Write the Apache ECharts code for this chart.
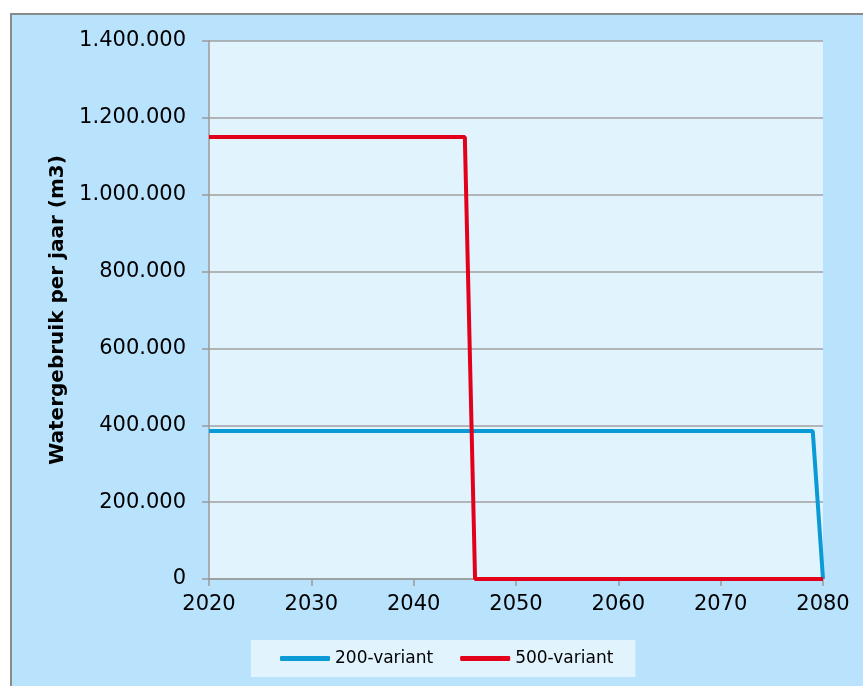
<!DOCTYPE html>
<html>
<head>
<meta charset="utf-8">
<script src="https://cdn.jsdelivr.net/npm/echarts@6/dist/echarts.min.js"></script>
<style>
html,body{margin:0;padding:0;background:#fff;}
#c{width:863px;height:686px;}
</style>
</head>
<body>
<div id="c"></div>
<script>
const seriesNames = ['200-variant', '500-variant'];
const variant200 = [[2020, 385000], [2079, 385000], [2080, 0]];
const variant500 = [[2020, 1150000], [2045, 1150000], [2046, 0], [2080, 0]];
const yTitle = 'Watergebruik per jaar (m3)';
const colors = ['#0a9ad6', '#e2001a'];

function nlFormat(v) {
  return String(Math.round(v)).replace(/\B(?=(\d{3})+(?!\d))/g, '.');
}

const chart = echarts.init(document.getElementById('c'));
chart.setOption({
  backgroundColor: '#ffffff',
  animation: false,
  textStyle: { fontFamily: 'DejaVu Sans' },
  graphic: [{
    type: 'rect', z: -10, silent: true,
    shape: { x: 11, y: 14, width: 870, height: 690 },
    style: { fill: '#b9e3fd', stroke: '#8a8a8a', lineWidth: 2 }
  }],
  grid: {
    left: 209, top: 41, right: 40, bottom: 107,
    show: true, backgroundColor: '#e1f3fd', borderWidth: 0
  },
  legend: {
    data: seriesNames,
    left: 251, top: 640,
    backgroundColor: '#e1f3fd',
    padding: [10, 22, 10, 29],
    itemGap: 27,
    itemWidth: 50, itemHeight: 5,
    icon: 'roundRect',
    textStyle: { fontSize: 17, color: '#000', fontFamily: 'DejaVu Sans' }
  },
  xAxis: {
    type: 'value', min: 2020, max: 2080, interval: 10,
    axisLine: { show: true, lineStyle: { color: '#9a9a9a', width: 1.5 } },
    axisTick: { show: true, length: 7, lineStyle: { color: '#9a9a9a', width: 1.5 } },
    axisLabel: { fontSize: 21, color: '#000', margin: 15, formatter: v => String(v) },
    splitLine: { show: false }
  },
  yAxis: {
    type: 'value', min: 0, max: 1400000, interval: 200000,
    name: yTitle, nameLocation: 'middle', nameGap: 140,
    nameTextStyle: { fontSize: 20, fontWeight: 'bold', color: '#000' },
    axisLine: { show: true, lineStyle: { color: '#9a9a9a', width: 1.5 } },
    axisTick: { show: true, length: 7, lineStyle: { color: '#9a9a9a', width: 1.5 } },
    axisLabel: { fontSize: 21, color: '#000', margin: 23, formatter: nlFormat },
    splitLine: { show: true, lineStyle: { color: '#a0a0a0', width: 1.5 } }
  },
  series: [
    {
      name: seriesNames[0], type: 'line', data: variant200,
      symbol: 'none', color: colors[0],
      lineStyle: { width: 4, color: colors[0] }
    },
    {
      name: seriesNames[1], type: 'line', data: variant500,
      symbol: 'none', color: colors[1],
      lineStyle: { width: 4, color: colors[1] }
    }
  ]
});
</script>
</body>
</html>
